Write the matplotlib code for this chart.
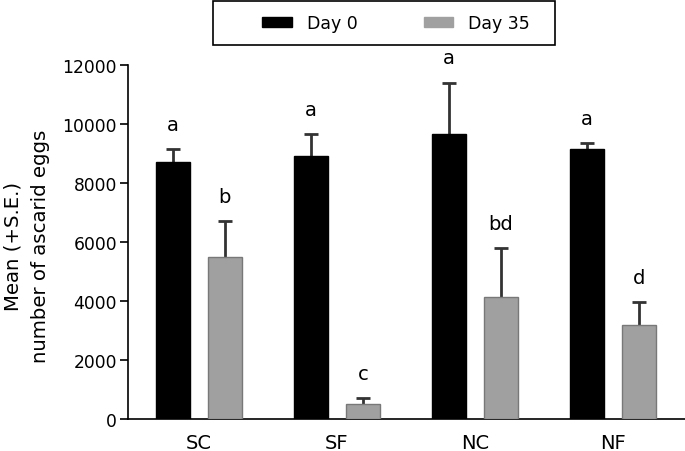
import matplotlib
matplotlib.use("Agg")
import matplotlib.pyplot as plt
from matplotlib.patches import Rectangle
import numpy as np

plt.rcParams["font.family"] = ["DejaVu Sans"]

# Data
groups = ["SC", "SF", "NC", "NF"]
day0_mean = [8700, 8900, 9650, 9150]
day0_se = [450, 750, 1750, 200]
day35_mean = [5500, 500, 4150, 3200]
day35_se = [1200, 200, 1650, 750]
day0_letters = ["a", "a", "a", "a"]
day35_letters = ["b", "c", "bd", "d"]

fig = plt.figure(figsize=(6.85, 4.52), dpi=100)
ax = fig.add_axes([128 / 685, 1 - 420 / 452, 1 - 128 / 685, (420 - 66) / 452])

x = np.arange(len(groups))
width = 0.246
offset = 0.188

series = [
    (x - offset, day0_mean, day0_se, day0_letters, "black", "black", "Day 0"),
    (x + offset, day35_mean, day35_se, day35_letters, "#a0a0a0", "#787878", "Day 35"),
]

handles = []
for xs, means, ses, letters, fill, edge, label in series:
    bars = ax.bar(xs, means, width=width, color=fill, edgecolor=edge,
                  linewidth=1.0, label=label, zorder=3)
    handles.append(bars)
    eb = ax.errorbar(xs, means, yerr=[np.zeros(len(ses)), ses], fmt="none",
                     ecolor="#333333", elinewidth=2, capsize=5, capthick=2,
                     zorder=2)
    # hide the lower caps so only the upper whisker shows
    eb[1][0].set_visible(False)
    for xi, m, s, t in zip(xs, means, ses, letters):
        ax.annotate(t, (xi, m + s), xytext=(0, 11), textcoords="offset points",
                    ha="center", va="bottom", fontsize=14)

ax.set_xlim(-0.514, 3.52)
ax.set_ylim(0, 12000)
ax.set_yticks(np.arange(0, 12001, 2000))
ax.set_xticks(x)
ax.set_xticklabels(groups)
ax.tick_params(axis="y", direction="out", length=6, width=1.2, labelsize=12.3,
               pad=2)
ax.tick_params(axis="x", length=0, labelsize=14, pad=10)
for side in ("top", "right"):
    ax.spines[side].set_visible(False)
for side in ("left", "bottom"):
    ax.spines[side].set_linewidth(1.2)

ax.set_ylabel("Mean (+S.E.)\nnumber of ascarid eggs", fontsize=14.2,
              linespacing=1.55)
ax.yaxis.set_label_coords(-0.14, 0.49)

# legend box drawn as its own frame, entries placed inside it
fig.patches.append(Rectangle((213 / 685, 1 - 46 / 452), (555 - 213) / 685,
                             44 / 452, transform=fig.transFigure,
                             facecolor="white", edgecolor="black",
                             linewidth=1.2))
leg = fig.legend(handles, ["Day 0", "Day 35"], loc="center left",
                 bbox_to_anchor=(262 / 685, 1 - 24 / 452), ncol=2,
                 frameon=False, fontsize=12.5, handlelength=1.72,
                 handleheight=0.57, columnspacing=3.8, borderpad=0,
                 borderaxespad=0, handletextpad=0.86)
for h in leg.legend_handles:
    h.set_edgecolor(h.get_facecolor())

fig.savefig("out.png", dpi=100)
